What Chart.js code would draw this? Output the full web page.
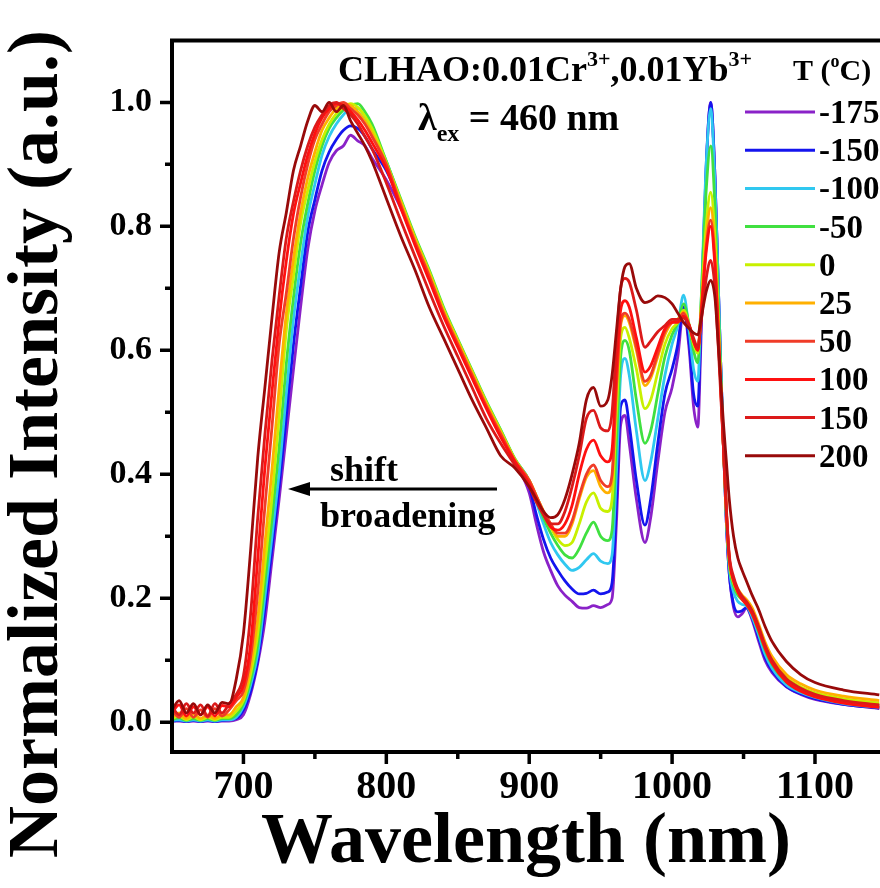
<!DOCTYPE html>
<html>
<head>
<title>CLHAO emission spectra</title>
<style>
  body, html { margin: 0; padding: 0; background: #fff; }
  #wrap { width: 880px; height: 888px; position: relative; }
</style>
</head>
<body>
<div id="wrap"><canvas id="spec"></canvas></div>
<script src="https://cdn.jsdelivr.net/npm/chart.js"></script>
<script>
// wavelength grid (nm)
const wavelength = [650,655,660,665,670,675,680,685,690,695,
  700,705,710,715,720,725,730,735,740,745,750,755,760,765,770,775,780,785,790,
  800,810,820,830,840,850,860,870,880,890,
  900,905,910,915,920,925,930,935,940,945,950,955,958,961,964,967,970,975,981,
  985,990,995,1000,1004,1008,1012,1015,1018,1020,1022,1024,1027,1030,1032,1034,1036,1038,1040,
  1043,1046,1049,1052,1056,1060,1065,1070,1080,1090,1100,1120,1145];

const temps = ['-175','-150','-100','-50','0','25','50','100','150','200'];
const colors = ['#8a22c8','#1414ee','#30c8f0','#40e040','#c8f000','#ffb000','#f03c28','#ff1010','#dc1a1a','#980a0a'];

const tM175 = [0.002,0.002,0.001,0.002,0.001,0.002,0.001,0.002,0.002,0.004,
  0.012,0.045,0.095,0.163,0.262,0.36,0.464,0.569,0.67,0.763,0.825,0.867,0.903,0.922,0.93,0.947,0.938,0.93,0.91,
  0.875,0.83,0.778,0.722,0.665,0.613,0.563,0.513,0.468,0.42,
  0.37,0.32,0.275,0.245,0.22,0.205,0.195,0.185,0.184,0.188,0.185,0.19,0.20,0.32,0.48,0.495,0.45,0.36,0.29,
  0.33,0.42,0.50,0.54,0.59,0.665,0.60,0.51,0.476,0.60,0.76,0.90,1.0,0.88,0.73,0.58,0.44,0.32,0.24,
  0.185,0.17,0.175,0.184,0.165,0.135,0.10,0.08,0.057,0.045,0.037,0.029,0.022];
const tM150 = [0.002,0.003,0.001,0.003,0.001,0.003,0.001,0.003,0.004,0.006,
  0.02,0.05,0.10,0.183,0.281,0.38,0.494,0.609,0.703,0.791,0.843,0.89,0.92,0.94,0.955,0.962,0.958,0.945,0.925,
  0.89,0.838,0.78,0.724,0.665,0.614,0.564,0.514,0.469,0.422,
  0.38,0.335,0.295,0.265,0.245,0.228,0.215,0.207,0.208,0.213,0.207,0.21,0.225,0.35,0.51,0.52,0.48,0.39,0.318,
  0.36,0.45,0.53,0.57,0.61,0.67,0.61,0.53,0.51,0.626,0.776,0.906,1.0,0.88,0.73,0.58,0.44,0.32,0.24,
  0.19,0.178,0.18,0.185,0.168,0.14,0.105,0.083,0.058,0.046,0.038,0.029,0.023];
const tM100 = [0.003,0.004,0.002,0.004,0.002,0.004,0.002,0.004,0.004,0.008,
  0.025,0.06,0.11,0.202,0.30,0.403,0.53,0.65,0.738,0.816,0.868,0.915,0.945,0.965,0.98,0.99,0.99,0.977,0.957,
  0.905,0.842,0.782,0.727,0.667,0.616,0.566,0.516,0.471,0.424,
  0.39,0.355,0.32,0.29,0.27,0.255,0.245,0.25,0.262,0.272,0.26,0.256,0.27,0.40,0.56,0.587,0.56,0.47,0.39,
  0.42,0.49,0.56,0.61,0.64,0.689,0.63,0.57,0.55,0.654,0.788,0.906,0.99,0.87,0.73,0.58,0.445,0.33,0.25,
  0.21,0.195,0.19,0.188,0.17,0.145,0.11,0.087,0.06,0.048,0.04,0.03,0.024];
const tM50 = [0.004,0.007,0.003,0.006,0.003,0.006,0.003,0.006,0.006,0.012,
  0.03,0.068,0.125,0.225,0.328,0.444,0.578,0.685,0.773,0.837,0.89,0.93,0.958,0.975,0.988,0.995,0.998,0.985,0.965,
  0.905,0.845,0.785,0.73,0.67,0.618,0.568,0.518,0.472,0.425,
  0.39,0.36,0.33,0.305,0.285,0.27,0.265,0.28,0.305,0.323,0.30,0.293,0.31,0.45,0.59,0.616,0.60,0.52,0.45,
  0.47,0.53,0.59,0.625,0.645,0.675,0.64,0.60,0.58,0.663,0.77,0.863,0.93,0.83,0.70,0.57,0.44,0.33,0.255,
  0.22,0.205,0.198,0.19,0.175,0.15,0.117,0.093,0.065,0.052,0.043,0.034,0.027];
const t0 = [0.006,0.01,0.004,0.009,0.004,0.008,0.004,0.008,0.008,0.018,
  0.035,0.078,0.143,0.253,0.363,0.494,0.632,0.72,0.805,0.858,0.905,0.94,0.965,0.982,0.992,0.998,0.992,0.978,0.958,
  0.903,0.842,0.782,0.727,0.667,0.616,0.566,0.516,0.47,0.424,
  0.39,0.365,0.34,0.315,0.295,0.285,0.29,0.32,0.355,0.37,0.345,0.34,0.36,0.50,0.62,0.637,0.62,0.57,0.506,
  0.52,0.565,0.61,0.635,0.645,0.665,0.64,0.61,0.595,0.657,0.736,0.805,0.855,0.78,0.67,0.55,0.44,0.335,0.26,
  0.225,0.21,0.2,0.195,0.18,0.157,0.124,0.10,0.072,0.057,0.048,0.038,0.031];
const t25 = [0.008,0.015,0.006,0.014,0.006,0.012,0.006,0.012,0.012,0.025,
  0.04,0.09,0.167,0.287,0.408,0.54,0.659,0.747,0.822,0.878,0.92,0.955,0.975,0.99,0.998,0.995,0.985,0.97,0.95,
  0.90,0.84,0.78,0.724,0.664,0.614,0.564,0.514,0.468,0.423,
  0.39,0.365,0.34,0.32,0.30,0.30,0.32,0.36,0.395,0.406,0.38,0.37,0.39,0.53,0.64,0.656,0.645,0.60,0.543,
  0.555,0.59,0.625,0.645,0.65,0.662,0.64,0.615,0.60,0.655,0.725,0.786,0.83,0.76,0.66,0.55,0.44,0.34,0.265,
  0.23,0.215,0.205,0.198,0.185,0.162,0.13,0.106,0.077,0.062,0.052,0.042,0.035];
const t50 = [0.02,0.008,0.022,0.008,0.02,0.008,0.022,0.01,0.02,0.035,
  0.05,0.105,0.21,0.347,0.477,0.61,0.692,0.78,0.847,0.9,0.94,0.965,0.985,0.995,1.0,0.99,0.98,0.965,0.945,
  0.90,0.835,0.775,0.72,0.66,0.61,0.56,0.51,0.465,0.422,
  0.39,0.365,0.34,0.32,0.305,0.305,0.325,0.365,0.40,0.415,0.39,0.38,0.40,0.54,0.645,0.66,0.65,0.605,0.55,
  0.56,0.595,0.63,0.645,0.648,0.66,0.64,0.615,0.60,0.65,0.714,0.77,0.81,0.745,0.65,0.545,0.44,0.34,0.265,
  0.23,0.212,0.2,0.193,0.178,0.155,0.122,0.097,0.067,0.052,0.043,0.033,0.026];
const t100 = [0.015,0.028,0.01,0.025,0.012,0.025,0.01,0.027,0.025,0.04,
  0.06,0.125,0.264,0.41,0.533,0.649,0.744,0.82,0.87,0.915,0.95,0.975,0.99,0.998,0.995,0.985,0.972,0.955,0.935,
  0.893,0.83,0.77,0.713,0.655,0.605,0.555,0.506,0.46,0.42,
  0.385,0.36,0.335,0.315,0.31,0.32,0.35,0.40,0.44,0.455,0.43,0.42,0.44,0.57,0.665,0.68,0.67,0.62,0.565,
  0.575,0.605,0.635,0.645,0.645,0.655,0.64,0.615,0.60,0.647,0.708,0.762,0.80,0.735,0.645,0.54,0.44,0.34,0.265,
  0.228,0.21,0.198,0.19,0.175,0.152,0.12,0.095,0.065,0.05,0.041,0.031,0.024];
const t150 = [0.025,0.012,0.03,0.015,0.028,0.01,0.03,0.015,0.03,0.045,
  0.075,0.174,0.33,0.464,0.584,0.688,0.781,0.84,0.89,0.93,0.96,0.98,0.995,1.0,0.99,0.98,0.965,0.945,0.925,
  0.87,0.81,0.752,0.695,0.64,0.59,0.54,0.49,0.45,0.415,
  0.38,0.355,0.335,0.32,0.32,0.34,0.38,0.43,0.49,0.503,0.475,0.47,0.50,0.61,0.70,0.716,0.71,0.665,0.605,
  0.615,0.63,0.64,0.65,0.65,0.652,0.64,0.62,0.605,0.638,0.681,0.718,0.745,0.70,0.62,0.53,0.44,0.345,0.27,
  0.235,0.215,0.203,0.195,0.18,0.158,0.125,0.10,0.07,0.055,0.045,0.035,0.028];
const t200 = [0.02,0.035,0.015,0.03,0.012,0.028,0.015,0.032,0.03,0.07,
  0.143,0.277,0.427,0.54,0.653,0.758,0.822,0.89,0.93,0.97,0.995,0.985,1.0,0.985,0.995,0.97,0.95,0.93,0.905,
  0.845,0.785,0.73,0.67,0.62,0.57,0.52,0.475,0.43,0.41,
  0.38,0.36,0.34,0.33,0.335,0.36,0.40,0.45,0.52,0.54,0.51,0.52,0.56,0.63,0.70,0.735,0.74,0.70,0.677,
  0.68,0.688,0.685,0.675,0.66,0.645,0.635,0.628,0.625,0.646,0.673,0.696,0.713,0.685,0.62,0.55,0.48,0.42,0.36,
  0.30,0.265,0.245,0.228,0.205,0.185,0.155,0.13,0.098,0.077,0.064,0.052,0.044];

const series = [tM175, tM150, tM100, tM50, t0, t25, t50, t100, t150, t200];

const xTicks = [700, 800, 900, 1000, 1100];
const xMinor = [750, 850, 950, 1050];
const yTicks = [0, 0.2, 0.4, 0.6, 0.8, 1.0];
const yMinor = [0.1, 0.3, 0.5, 0.7, 0.9];

const FONT = "'Liberation Serif', 'Times New Roman', serif";

// draws text made of pieces (normal / superscript / subscript)
function richText(ctx, parts, x, y) {
  let cx = x;
  parts.forEach(p => {
    ctx.font = 'bold ' + p.size + 'px ' + FONT;
    ctx.fillText(p.t, cx, y + (p.dy || 0));
    cx += ctx.measureText(p.t).width;
  });
}

const decorations = {
  id: 'decorations',
  afterDraw(chart) {
    const {ctx, chartArea: a, scales: {x, y}} = chart;
    ctx.save();
    ctx.strokeStyle = '#000';
    ctx.fillStyle = '#000';
    ctx.lineWidth = 4;
    // frame
    ctx.beginPath();
    ctx.moveTo(a.right + 2, a.top);
    ctx.lineTo(a.left, a.top);
    ctx.lineTo(a.left, a.bottom);
    ctx.lineTo(a.right + 2, a.bottom);
    ctx.stroke();
    // tick marks
    ctx.lineWidth = 3.5;
    ctx.beginPath();
    xTicks.forEach(v => { const px = x.getPixelForValue(v); ctx.moveTo(px, a.bottom); ctx.lineTo(px, a.bottom + 12); });
    xMinor.forEach(v => { const px = x.getPixelForValue(v); ctx.moveTo(px, a.bottom); ctx.lineTo(px, a.bottom + 7); });
    yTicks.forEach(v => { const py = y.getPixelForValue(v); ctx.moveTo(a.left, py); ctx.lineTo(a.left - 12, py); });
    yMinor.forEach(v => { const py = y.getPixelForValue(v); ctx.moveTo(a.left, py); ctx.lineTo(a.left - 7, py); });
    ctx.stroke();

    // y axis title, placed a little below the axis centre as in the original
    ctx.save();
    ctx.translate(38, 444);
    ctx.rotate(-Math.PI / 2);
    ctx.textAlign = 'center';
    ctx.textBaseline = 'middle';
    ctx.font = 'bold 72px ' + FONT;
    ctx.fillText('Normalized Intensity (a.u.)', 0, 0);
    ctx.restore();

    // legend
    ctx.textBaseline = 'alphabetic';
    richText(ctx, [{t: 'T (', size: 30}, {t: 'o', size: 18, dy: -13}, {t: 'C)', size: 30}], 793, 80);
    chart.data.datasets.forEach((ds, i) => {
      const ly = 112 + i * 38.2;
      ctx.strokeStyle = ds.borderColor;
      ctx.lineWidth = 3;
      ctx.beginPath();
      ctx.moveTo(745, ly);
      ctx.lineTo(815, ly);
      ctx.stroke();
      ctx.font = 'bold 33px ' + FONT;
      ctx.fillText(ds.label, 819, ly + 11);
    });

    // sample and excitation
    richText(ctx, [
      {t: 'CLHAO:0.01Cr', size: 36}, {t: '3+', size: 22, dy: -15},
      {t: ',0.01Yb', size: 36}, {t: '3+', size: 22, dy: -15}
    ], 338, 81);
    richText(ctx, [{t: 'λ', size: 38}, {t: 'ex', size: 24, dy: 11}, {t: ' = 460 nm', size: 38}], 418, 130);

    // shift arrow
    ctx.strokeStyle = '#000';
    ctx.lineWidth = 3;
    ctx.beginPath();
    ctx.moveTo(497, 489);
    ctx.lineTo(300, 489);
    ctx.stroke();
    ctx.beginPath();
    ctx.moveTo(288, 489);
    ctx.lineTo(310, 482);
    ctx.lineTo(310, 496);
    ctx.closePath();
    ctx.fill();
    ctx.font = 'bold 36px ' + FONT;
    ctx.fillText('shift', 330, 481);
    ctx.fillText('broadening', 320, 527);
    ctx.restore();
  }
};

new Chart(document.getElementById('spec'), {
  type: 'line',
  data: {
    datasets: series.map((s, i) => ({
      label: temps[i],
      data: wavelength.map((w, j) => ({x: w, y: s[j]})),
      borderColor: colors[i],
      borderWidth: 2.8,
      pointRadius: 0,
      fill: false,
      cubicInterpolationMode: 'monotone',
      order: series.length - i
    }))
  },
  options: {
    responsive: true,
    maintainAspectRatio: false,
    animation: false,
    events: [],
    layout: {padding: {top: 40, right: 0, left: 0, bottom: 0}},
    plugins: {legend: {display: false}, tooltip: {enabled: false}},
    scales: {
      x: {
        type: 'linear',
        min: 650,
        max: 1145.5,
        grid: {display: false, drawTicks: false},
        border: {display: false},
        afterBuildTicks: s => { s.ticks = xTicks.map(v => ({value: v})); },
        afterFit: s => { s.height = 136; },
        ticks: {color: '#000', padding: 12, maxRotation: 0, callback: v => String(v),
          font: {family: FONT, size: 40, weight: 'bold'}},
        title: {display: true, text: 'Wavelength (nm)', color: '#000', padding: {top: 0, bottom: 9},
          font: {family: FONT, size: 72, weight: 'bold', lineHeight: 1}}
      },
      y: {
        min: -0.048,
        max: 1.1,
        grid: {display: false, drawTicks: false},
        border: {display: false},
        afterBuildTicks: s => { s.ticks = yTicks.map(v => ({value: v})); },
        afterFit: s => { s.width = 172; },
        ticks: {color: '#000', padding: 20, callback: v => v.toFixed(1), font: {family: FONT, size: 34, weight: 'bold'}},
        title: {display: false}
      }
    }
  },
  plugins: [decorations]
});
</script>
</body>
</html>
